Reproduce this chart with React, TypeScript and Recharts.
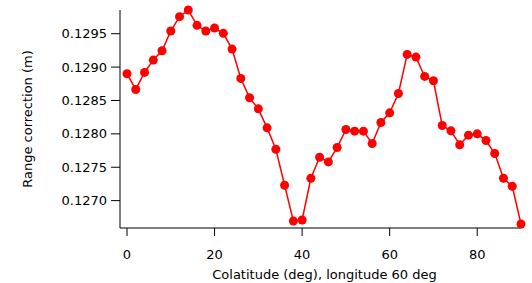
import React from "react";
import { LineChart, Line, XAxis, YAxis } from "recharts";

const colatitude = [0, 2, 4, 6, 8, 10, 12, 14, 16, 18, 20, 22, 24, 26, 28, 30, 32, 34, 36, 38, 40, 42, 44, 46, 48, 50, 52, 54, 56, 58, 60, 62, 64, 66, 68, 70, 72, 74, 76, 78, 80, 82, 84, 86, 88, 90];
const rangeCorrection = [
  0.1289, 0.128665, 0.12892, 0.129105, 0.129245, 0.12954, 0.129755, 0.129855, 0.129625, 0.12954,
  0.129585, 0.129505, 0.12927, 0.12883, 0.12854, 0.128375, 0.12809, 0.12777, 0.12723, 0.126695,
  0.12671, 0.127335, 0.12765, 0.12758, 0.127795, 0.128065, 0.12804, 0.12804, 0.127855, 0.12817,
  0.128315, 0.128605, 0.12919, 0.12915, 0.12886, 0.128795, 0.128125, 0.128045, 0.127835, 0.12798,
  0.128, 0.1279, 0.127705, 0.127335, 0.127215, 0.12665,
];
const xTicks = [0, 20, 40, 60, 80];
const yTicks = [0.127, 0.1275, 0.128, 0.1285, 0.129, 0.1295];

const data = colatitude.map((c, i) => ({ c, v: rangeCorrection[i] }));

const font = "'DejaVu Sans', sans-serif";

export default function App() {
  return (
    <div style={{ position: "absolute", left: 0, top: 0, width: 532, height: 283, background: "#fff" }}>
      <LineChart width={532} height={283} data={data} margin={{ top: 10, right: 11, bottom: 0, left: 0 }}>
        <XAxis
          dataKey="c"
          type="number"
          domain={[-1.6, 90]}
          ticks={xTicks}
          height={55}
          tickSize={8}
          tickMargin={14}
          stroke="#000"
          tick={{ fill: "#000", fontSize: 13, fontFamily: font }}
          tickLine={{ stroke: "#000" }}
          label={{ value: "Colatitude (deg), longitude 60 deg", position: "insideBottom", offset: 4, fill: "#000", fontSize: 13, fontFamily: font, dx: 4 }}
        />
        <YAxis
          type="number"
          domain={[0.12659, 0.129855]}
          ticks={yTicks}
          width={120}
          tickSize={9}
          tickMargin={4}
          stroke="#000"
          tickFormatter={(v: number) => v.toFixed(4)}
          tick={{ fill: "#000", fontSize: 13, fontFamily: font }}
          tickLine={{ stroke: "#000" }}
          label={{ value: "Range correction (m)", angle: -90, position: "insideLeft", offset: 27, fill: "#000", fontSize: 13, fontFamily: font, style: { textAnchor: "middle" } }}
        />
        <Line
          dataKey="v"
          stroke="#ff0000"
          strokeWidth={1.5}
          dot={{ r: 4.5, fill: "#ff0000", stroke: "none" }}
          isAnimationActive={false}
        />
      </LineChart>
    </div>
  );
}
